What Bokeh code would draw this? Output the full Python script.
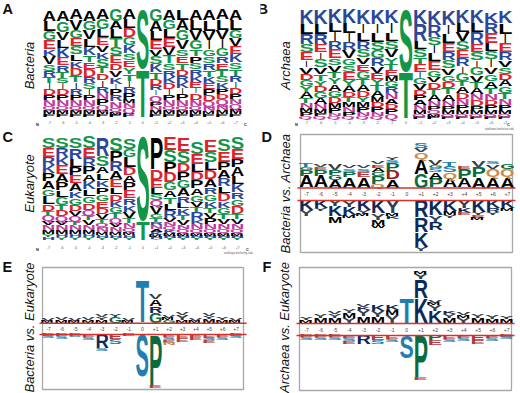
from math import pi
from bokeh.plotting import figure
from bokeh.models import ColumnDataSource, Range1d, Label, CustomJS
from bokeh.layouts import column, row
from bokeh.document import Document
from bokeh.embed import file_html
from bokeh.resources import INLINE
from bokeh.core.properties import value

positions = list(range(-7, 8))
tick_labels = ["-7","-6","-5","-4","-3","-2","-1","0","+1","+2","+3","+4","+5","+6","+7"]

A_letters = ["ALGEKVSRTIDPNQMF","AGVLKERTSIDPNQMF","AVGESLKDTIRPNQMF","AGVLKTEDRSIPNQMF","AGLEVKSTDIRNPQMF",
             "GALTSEDVKIPRNQMF","ALDGKSEYTIRPMNQF","ST","GALEVSKTDRIQPNMF","AGLEVTSRKDIPNQMF","LAGVSETDRKIPNQMF",
             "ALVGTPSRKEIDNQMF","ALVIGSRTKEPDQNMF","ALVIGRETSKPDQNMF","ALGVEKSTRIDPNQMF"]
A_heights = [[11,10,9,9,7,8,7,6,6,6,6,5,6,4,4,3],[10,11,8,8,9,8,7,6,5,6,6,5,6,4,4,3],[10,11,8,8,8,7,7,8,6,7,6,5,6,4,4,3],
             [11,9,9,8,8,7,7,8,6,6,6,5,6,4,4,3],[10,10,8,8,7,7,8,6,7,7,6,6,6,5,4,3],[12,8,9,9,8,8,7,7,7,5,6,6,7,4,3,2],
             [10,9,9,8,8,7,7,7,7,6,6,6,4,5,5,4],[60,48],[12,10,9,9,7,8,8,7,6,5,5,7,4,4,4,3],[10,9,9,9,8,8,7,7,6,6,6,5,6,4,4,3],
             [11,10,10,9,7,7,7,6,6,6,6,6,6,4,4,3],[10,10,10,9,7,7,6,7,6,6,5,7,6,4,4,3],[10,11,9,9,7,7,7,7,6,6,6,6,5,5,3,3],
             [10,11,9,9,8,7,7,6,6,7,5,5,6,5,4,3],[10,10,8,8,8,8,7,7,6,6,6,5,5,5,5,3]]

B_letters = ["KLRSEIVDGYATNMPQ","KLREISVTYDGANMPQ","KLIRESVTYAGDMPNQ","KLIRVGSEYADTMNPQ","KILRSVEGTADYMPNQ",
             "KILSGRVEYTAMDPNQ","KILSVYTEMGRNADPQ","ST","KRLSTEIGVDPANMQF","KRSILEGVDTANPQMF","KILERSVGDTANPMQF",
             "KLVSERIGTADNPMQF","KLRESIGVTANDPMQF","KRELSIVGATNDPMQF","KLIERVSDAGTNPMQF"]
B_heights = [[14,10,10,8,8,7,7,6,6,6,6,5,5,4,4,3],[14,10,10,8,7,8,7,7,5,6,6,6,5,4,3,3],[14,9,9,8,9,7,7,6,6,7,6,6,5,5,3,3],
             [14,10,9,8,8,7,7,8,6,6,5,5,5,5,4,3],[14,9,8,8,8,7,7,8,6,6,6,5,5,5,4,3],[14,9,9,8,8,8,7,6,6,6,6,5,5,5,4,3],
             [13,10,8,8,8,7,6,6,5,6,6,6,5,5,5,5],[63,47],[14,17,8,8,7,8,6,6,6,5,5,5,5,4,3,2],[14,12,8,8,8,9,7,5,7,6,6,5,4,4,3,2],
             [14,9,9,9,8,8,7,7,6,6,7,5,4,4,3,2],[13,9,9,9,8,8,7,8,5,7,6,6,5,4,3,2],[13,9,12,8,8,7,8,7,6,6,6,6,4,4,3,2],
             [11,10,10,8,8,8,7,7,7,6,6,5,5,4,3,2],[12,11,9,9,8,7,7,6,6,7,6,6,5,4,3,2]]

C_letters = ["SERKPAGLDTQVNMYH","SRKEAPLGTDQVNMHY","SRLPEAKGDVQTNMHY","SERPAKLGDQTVNMHY","RSALKPGEDVTQNMHY",
             "SPRAELDKGTQVNMHY","SGLDAPERKVTNQMHY","ST","PDELSQVGTRNAKMHY","ESPDGATLRVNQKMHY","ESDPGARLKTVNQMHY",
             "SELDPAGVTRKNQMHY","ESLDARGKTVPNQMHY","SEPARLDKGTVNQMHY","SEPALKRGDTVNQMHY"]
C_heights = [[11,9,8,8,8,8,7,8,7,4,6,4,5,4,3,3],[11,9,8,9,8,8,7,8,5,6,5,4,5,4,3,3],[11,11,8,8,8,8,7,7,6,5,5,4,5,4,3,3],
             [12,10,8,8,7,8,7,7,7,5,5,5,5,4,3,3],[19,10,7,7,7,7,7,7,6,5,4,4,5,3,3,2],[13,10,10,8,8,7,7,6,6,5,5,4,5,3,3,2],
             [11,8,10,8,7,8,8,7,7,6,5,5,4,3,3,2],[85,19],[32,11,8,6,6,6,8,4,4,3,4,3,3,2,2,1],[13,12,10,10,8,7,7,6,8,4,4,4,3,3,2,2],
             [13,12,9,8,8,8,7,5,7,5,5,4,4,3,2,2],[12,10,8,8,8,7,7,5,5,8,4,5,4,3,2,2],[12,10,8,9,8,7,7,7,5,5,6,5,4,3,2,2],
             [12,11,8,8,8,7,8,7,6,5,5,5,4,3,2,2],[12,10,8,9,8,8,7,7,8,5,5,5,4,3,2,2]]

D_up_letters = ["APGT","APEV","AGPV","APSV","AESV","QPGAEV","ADPSY","","GAQVS","PASGV","AQST","APE","APV","AQVS","AQGS"]
D_up_heights = [[12,6,3,4],[12,6,3,3],[8,5,5,6],[11,5,3,2],[11,5,3,2],[4,8,4,4,3,2],[8,9,8,3,3],[],[14,15,7,4,5],[9,7,4,3,5],
                [9,7,6,4],[9,10,3],[11,10,6],[11,8,4,2],[11,8,5]]
D_dn_letters = ["KY","KY","YKM","YKM","KYM","KYMW","YMK","","RRKY","KYR","KMY","YKE","KYEM","KRY","KM"]
D_dn_heights = [[10,6],[8,3],[6,10,7],[7,8,3],[10,4,2],[13,7,5,3],[13,3,3],[],[17,15,15,4],[15,7,8],[11,4,3],[8,5,2],[12,3,3,2],[8,4,3],[8,3]]

E_up_letters = ["MV","MV","MV","MV","MYV","GY","MV","T","GRAV","GMV","MYV","MV","MYV","MY","MV"]
E_up_heights = [[2,2],[3,3],[2,2],[3,3],[3,3,3],[6,3],[2,2],[43],[10,7,7,5],[3,2,3],[3,5,3],[2,2],[4,3,2],[3,3],[2,2]]
E_dn_letters = ["ES","ES","ES","ES","RS","ES","E","S","PE","ESEN","EE","EE","ESE","ES","ES"]
E_dn_heights = [[2,2],[2,3],[2,1],[3,3],[14,3],[5,5],[2],[42],[52,2],[3,3,3,2],[4,4],[3,3],[4,2,3],[3,3],[2,2]]

F_up_letters = ["MY","MY","MYV","YMY","MYKV","MYK","YMK","T","KRYM","KYMV","MYK","YMV","MY","MY","MY"]
F_up_heights = [[3,3],[5,4],[5,4,3],[5,5,4],[7,6,3,2],[6,6,7],[8,5,5],[25],[25,19,5,3],[12,6,2,3],[5,4,3],[5,3,2],[5,4],[4,4],[4,3]]
F_dn_letters = ["ES","ES","ES","ESE","R","ES","ES","S","PE","PE","ES","ES","EE","ES","ES"]
F_dn_heights = [[2,3],[2,3],[2,3],[3,3,3],[9],[5,4],[4,3],[23],[42,3],[5,5],[4,3],[3,3],[5,4],[3,3],[2,2]]

WEBLOGO = {"A":"#000000","L":"#000000","V":"#000000","I":"#000000","P":"#000000","M":"#000000","F":"#000000","W":"#000000",
           "G":"#12964a","S":"#12964a","T":"#12964a","Y":"#12964a","C":"#12964a",
           "K":"#2a479c","R":"#2a479c","H":"#2a479c","D":"#e0202a","E":"#e0202a","N":"#c03a9c","Q":"#c03a9c"}
TWOSAMPLE = {"A":"#000000","M":"#000000","F":"#000000","W":"#000000","V":"#33404c","Y":"#33404c",
             "P":"#0b6b3f","G":"#0b6b3f","S":"#1f7fb0","T":"#1f7fb0","K":"#0d2a5c","R":"#0d2a5c",
             "D":"#9c1c1c","E":"#b23a3a","Q":"#c98a50","N":"#c98a50"}
CAP = 0.716
CELL_W = 260

def panel(top, height, x_first, pitch, base_px):
    x0 = -7 - x_first / pitch
    p = figure(width=CELL_W, height=height, output_backend="svg", toolbar_location=None,
               x_range=Range1d(x0, x0 + CELL_W / pitch),
               y_range=Range1d(base_px - top - height, base_px - top),
               min_border=0, outline_line_color=None, background_fill_color=None, border_fill_color=None)
    p.xaxis.visible = False
    p.yaxis.visible = False
    p.grid.visible = False
    return p, x0

def baseline_shift(font_px):
    # Bokeh centres the text box on y; this moves the letter's foot back onto y.
    return 0.354 * font_px + 0.5

def stack(p, letters, heights, base, sign, colors, pitch):
    xs, ys, txt, fs, col, off = [], [], [], [], [], []
    for pos, ls, hs in zip(positions, letters, heights):
        y = base
        for ch, h in zip(ls, hs):
            xs.append(pos)
            ys.append(y if sign > 0 else y - h)
            txt.append(ch)
            fs.append(f"{h / CAP:.2f}px")
            off.append(-baseline_shift(h / CAP))
            col.append(colors[ch])
            y += sign * h
    src = ColumnDataSource(dict(x=xs, y=ys, t=txt, fs=fs, c=col, o=off))
    p.text("x", "y", text="t", source=src, text_color="c", text_font_size="fs", text_font_style="bold", y_offset="o",
           text_font=value(f"Liberation Sans, logo{round(pitch * 10)}"), text_align="center", text_baseline="alphabetic")

def caption(p, text, x_px, y_data):
    p.add_layout(Label(x=x_px, x_units="screen", y=y_data, y_units="data", text=text, angle=pi / 2,
                       text_font="Liberation Sans", text_font_style="italic", text_font_size="13px",
                       text_color="#111111", text_align="center", text_baseline="middle"))

def tag(p, text, x_px, y_data):
    p.add_layout(Label(x=x_px, x_units="screen", y=y_data + baseline_shift(14.5), y_units="data", text=text,
                       text_font="Liberation Sans", text_font_style="bold", text_font_size="14.5px",
                       text_color="#111111", text_align="left", text_baseline="alphabetic"))

def small(p, xs, y, texts, size, color="#333333", bold=False):
    src = ColumnDataSource(dict(x=xs, y=[y] * len(xs), t=texts))
    p.text("x", "y", text="t", source=src, text_color=color, text_font_size=size,
           text_font=value("Liberation Sans"), text_align="center", text_baseline="middle",
           text_font_style="bold" if bold else "normal")

def logo_panel(top, height, left, x_first, pitch, base_px, letters, heights, name, name_x, name_y, lab, lab_x, lab_y,
               tick_y, n_x, c_x, wl_y=None):
    p, x0 = panel(top, height, x_first - left, pitch, base_px)
    stack(p, [s[::-1] for s in letters], [h[::-1] for h in heights], 0, 1, WEBLOGO, pitch)
    small(p, positions, base_px - tick_y, tick_labels, "3.5px", "#555555")
    small(p, [x0 + (n_x - left) / pitch, x0 + (c_x - left) / pitch], base_px - tick_y - 2, ["N", "C"], "4px", "#222222", True)
    if wl_y:
        small(p, [x0 + (c_x - 9 - left) / pitch], base_px - wl_y, ["weblogo.berkeley.edu"], "3px", "#666666")
    caption(p, name, name_x - left, base_px - name_y)
    tag(p, lab, lab_x - left, base_px - lab_y)
    return p

def diff_panel(top, height, left, x_first, pitch, red_top, red_bot, frame, up_l, up_h, dn_l, dn_h,
               name, name_x, name_y, lab, lab_x, lab_y):
    p, x0 = panel(top, height, x_first - left, pitch, red_top)
    fx0, fx1, fy0, fy1 = frame
    conv = lambda px: x0 + (px - left) / pitch
    p.quad(left=[conv(fx0)], right=[conv(fx1)], top=[red_top - fy0], bottom=[red_top - fy1],
           fill_color=None, line_color="#a8a8a8", line_width=1.3)
    gap = red_bot - red_top
    stack(p, up_l, up_h, 0, 1, TWOSAMPLE, pitch)
    stack(p, dn_l, dn_h, -gap, -1, TWOSAMPLE, pitch)
    p.segment(x0=[conv(fx0 - 3)] * 2, x1=[conv(fx1 + 3)] * 2, y0=[0, -gap], y1=[0, -gap], line_color="#d9302c", line_width=1.4)
    small(p, positions, -gap / 2, tick_labels, "5px", "#444444")
    caption(p, name, name_x - left, red_top - name_y)
    tag(p, lab, lab_x - left, red_top - lab_y)
    return p

pA = logo_panel(0, 130, 0, 49, 13.3, 117, A_letters, A_heights, "Bacteria", 29, 65, "A", 2, 14, 122, 37, 245)
pB = logo_panel(0, 130, 260, 306, 14.2, 119, B_letters, B_heights, "Archaea", 285, 65, "B", 257, 14, 122, 296, 508, 128)
pC = logo_panel(130, 128, 0, 48, 13.5, 240, C_letters, C_heights, "Eukaryote", 29, 183, "C", 2, 142, 247, 37, 247, 252)
pD = diff_panel(130, 128, 260, 306, 14.35, 187.5, 200, (300, 512, 134, 252), D_up_letters, D_up_heights, D_dn_letters, D_dn_heights,
                "Bacteria vs. Archaea", 285, 193, "D", 261, 142)
pE = diff_panel(258, 135, 0, 48, 13.4, 322.7, 334, (42, 243, 267, 389), E_up_letters, E_up_heights, E_dn_letters, E_dn_heights,
                "Bacteria vs. Eukaryote", 29, 327, "E", 2, 272)
pF = diff_panel(258, 135, 260, 306, 14.3, 323, 335, (299, 511, 267, 390), F_up_letters, F_up_heights, F_dn_letters, F_dn_heights,
                "Archaea vs. Eukaryote", 284, 327, "F", 262, 272)

layout = column(row(pA, pB, spacing=0), row(pC, pD, spacing=0), row(pE, pF, spacing=0), spacing=0)

stretch = CustomJS(code="""
function fit(root){
  root.querySelectorAll('*').forEach(function(el){
    if (el.shadowRoot) fit(el.shadowRoot);
    if (el.tagName.toLowerCase() !== 'text' || el.dataset.fit) return;
    var fam = el.getAttribute('font-family') || '';
    var m = /logo([0-9]+)/.exec(fam);
    if (!m) return;
    var box = el.getBBox();
    var natural = el.getComputedTextLength();
    if (!natural) return;
    var k = parseFloat(m[1]) / 10 / natural;
    if (el.textContent === 'I') k = 0.7;
    var cx = box.x + box.width / 2;
    var old = el.getAttribute('transform') || '';
    el.setAttribute('transform', old + ' translate(' + cx + ' 0) scale(' + k + ' 1) translate(' + (-cx) + ' 0)');
    el.dataset.fit = '1';
  });
}
[50, 200, 500, 1000, 2000].forEach(function(t){ setTimeout(function(){ fit(document); }, t); });
""")

doc = Document()
doc.add_root(layout)
doc.js_on_event("document_ready", stretch)
open("out.html", "w").write(file_html(doc, INLINE))
